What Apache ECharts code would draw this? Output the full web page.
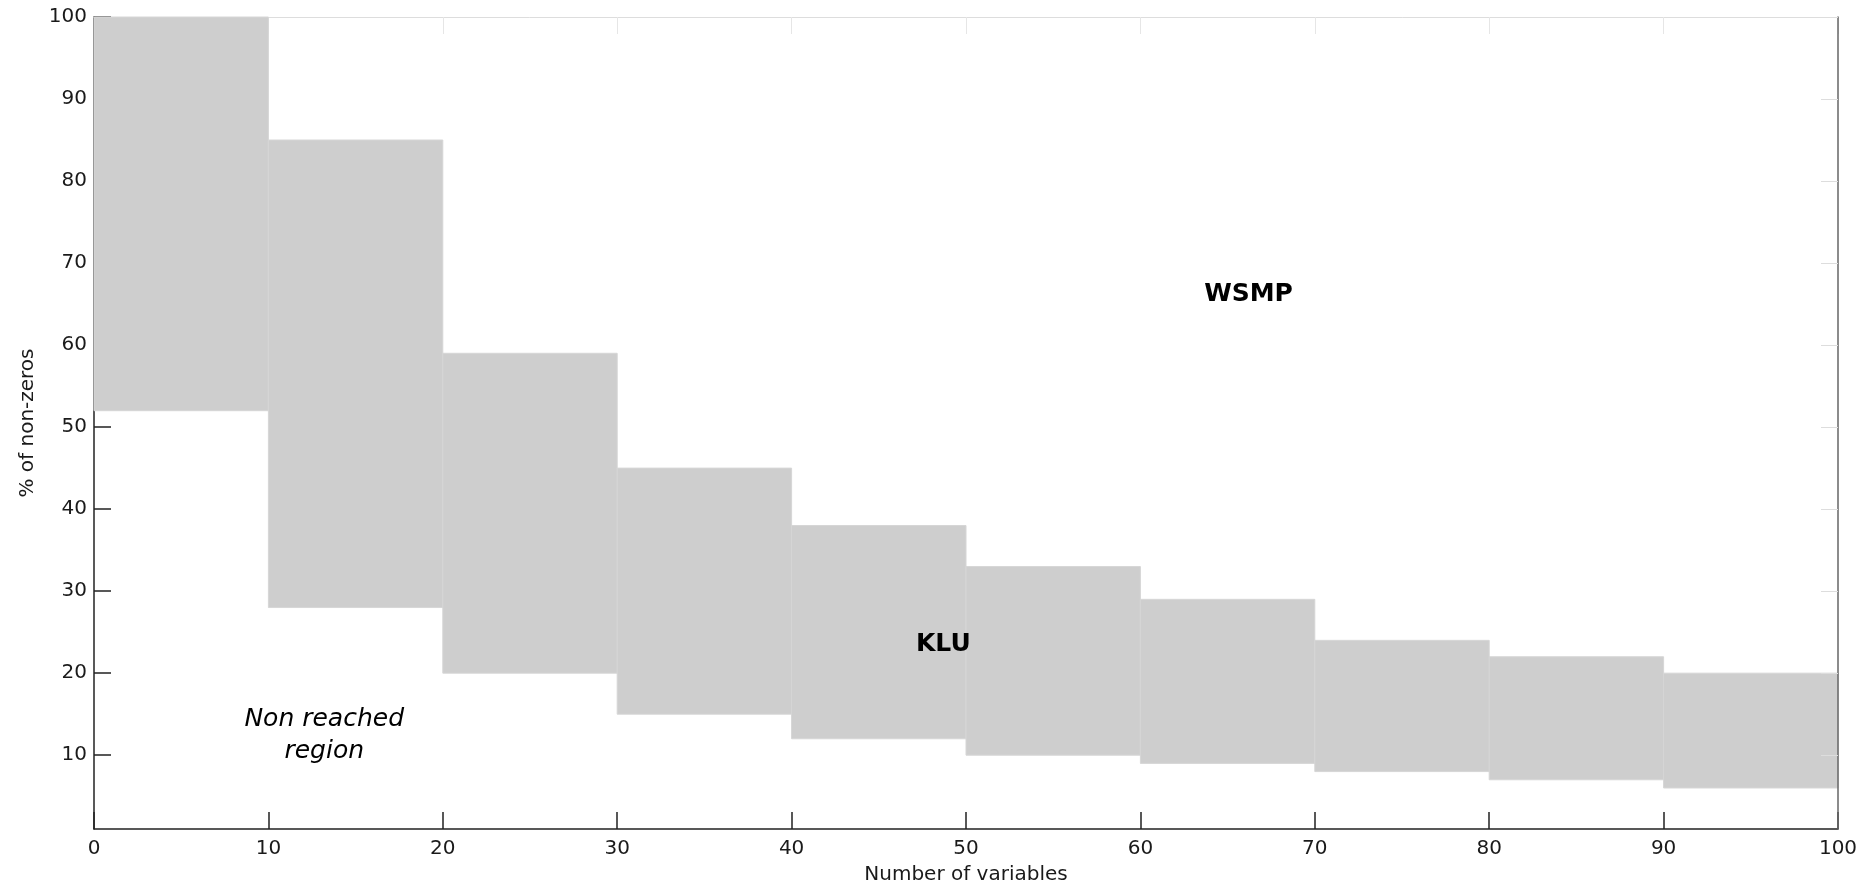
<!DOCTYPE html>
<html>
<head>
<meta charset="utf-8">
<script src="https://cdn.jsdelivr.net/npm/echarts@6/dist/echarts.min.js"></script>
<style>html,body{margin:0;padding:0;background:#fff}#chart{width:1872px;height:890px}</style>
</head>
<body>
<div id="chart"></div>
<script>
// Data
const varStarts = [0, 10, 20, 30, 40, 50, 60, 70, 80, 90];
const varEnds = [10, 20, 30, 40, 50, 60, 70, 80, 90, 100];
const lowerBound = [52, 28, 20, 15, 12, 10, 9, 8, 7, 6];
const upperBound = [100, 85, 59, 45, 38, 33, 29, 24, 22, 20];
const yTickValues = [10, 20, 30, 40, 50, 60, 70, 80, 90, 100];
const regionNames = ['WSMP', 'KLU', 'Non reached\nregion'];
const regionX = [66.2, 48.7, 13.2];
const regionY = [66.2, 23.5, 12.4];

const FONT = 'DejaVu Sans';
const blocks = varStarts.map((s, i) => [s, varEnds[i], lowerBound[i], upperBound[i]]);
const annoStyles = [
  { fontWeight: 'bold', fontStyle: 'normal' },
  { fontWeight: 'bold', fontStyle: 'normal' },
  { fontWeight: 'normal', fontStyle: 'italic' }
];

const chart = echarts.init(document.getElementById('chart'), null, { renderer: 'canvas' });
chart.setOption({
  animation: false,
  backgroundColor: '#ffffff',
  grid: { left: 94, right: 34, top: 17, bottom: 58, containLabel: false },
  xAxis: [{
    type: 'value', position: 'bottom', min: 0, max: 100, interval: 10,
    name: 'Number of variables', nameLocation: 'middle', nameGap: 36,
    nameTextStyle: { fontFamily: FONT, fontSize: 20, color: '#1a1a1a' },
    axisLine: { show: true, onZero: false, lineStyle: { color: '#222', width: 1.5 } },
    axisTick: { show: true, inside: true, length: 17, lineStyle: { color: '#222', width: 1.5 } },
    axisLabel: { fontFamily: FONT, fontSize: 20, color: '#1a1a1a', margin: 10 },
    splitLine: { show: false }
  }, {
    type: 'value', position: 'top', min: 0, max: 100, interval: 10,
    axisLine: { show: true, onZero: false, lineStyle: { color: '#dddddd', width: 1 } },
    axisTick: { show: true, inside: true, length: 17, lineStyle: { color: '#e6e6e6', width: 1 } },
    axisLabel: { show: false },
    splitLine: { show: false }
  }],
  yAxis: [{
    type: 'value', position: 'left', min: 1, max: 100,
    name: '% of non-zeros', nameLocation: 'middle', nameGap: 56,
    nameTextStyle: { fontFamily: FONT, fontSize: 20, color: '#1a1a1a' },
    axisLine: { show: true, onZero: false, lineStyle: { color: '#222', width: 1.5 } },
    axisTick: { show: true, inside: true, length: 17, customValues: yTickValues, lineStyle: { color: '#222', width: 1.5 } },
    axisLabel: { fontFamily: FONT, fontSize: 20, color: '#1a1a1a', margin: 7, customValues: yTickValues },
    splitLine: { show: false }
  }, {
    type: 'value', position: 'right', min: 1, max: 100, z: 5,
    axisLine: { show: true, onZero: false, lineStyle: { color: '#666666', width: 1.5 } },
    axisTick: { show: true, inside: true, length: 17, customValues: yTickValues, lineStyle: { color: '#dddddd', width: 1 } },
    axisLabel: { show: false, customValues: yTickValues },
    splitLine: { show: false }
  }],
  series: [{
    type: 'custom',
    xAxisIndex: 0, yAxisIndex: 0,
    data: blocks,
    renderItem: function (params, api) {
      const p0 = api.coord([api.value(0), api.value(3)]);
      const p1 = api.coord([api.value(1), api.value(2)]);
      return {
        type: 'rect',
        shape: { x: p0[0], y: p0[1], width: p1[0] - p0[0], height: p1[1] - p0[1] },
        style: { fill: '#cecece', stroke: '#d6d6d6', lineWidth: 1 }
      };
    },
    z: 2
  }]
});

// Region annotations positioned through the chart's own coordinate system
const texts = regionNames.map((n, i) => {
  const p = chart.convertToPixel({ xAxisIndex: 0, yAxisIndex: 0 }, [regionX[i], regionY[i]]);
  return {
    type: 'text', x: p[0], y: p[1], z: 10,
    style: {
      text: n, fill: '#000', fontFamily: FONT, fontSize: 25, lineHeight: 32,
      fontWeight: annoStyles[i].fontWeight, fontStyle: annoStyles[i].fontStyle,
      align: 'center', verticalAlign: 'middle'
    }
  };
});
chart.setOption({ graphic: texts });
</script>
</body>
</html>
